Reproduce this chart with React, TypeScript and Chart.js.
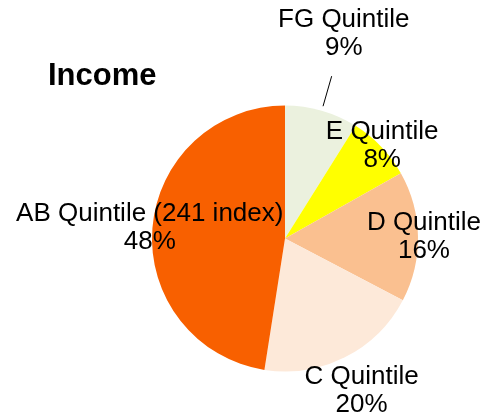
import React, { useEffect, useRef } from "react";
import { Chart, registerables } from "chart.js";

Chart.register(...registerables);

const TITLE = "Income";
const categories = ["FG Quintile", "E Quintile", "D Quintile", "C Quintile", "AB Quintile (241 index)"];
const shares = [9, 8, 16, 20, 48];
const valueLabels = ["9%", "8%", "16%", "20%", "48%"];
const sliceColors = ["#EBF1DE", "#FFFF00", "#FAC090", "#FDE9D9", "#F86000"];
// radial distance of each label (multiple of the pie radius)
const labelRadius = [1.6, 1.01, 1.045, 1.28, 1.02];
const leaderLine = [true, false, false, false, false];

const labelPlugin = {
  id: "sliceLabels",
  afterDraw(chart: any) {
    const ctx = chart.ctx as CanvasRenderingContext2D;
    const meta = chart.getDatasetMeta(0);
    ctx.save();
    // title
    ctx.fillStyle = "#000";
    ctx.font = "bold 31px 'Liberation Sans', Arial, sans-serif";
    ctx.textAlign = "left";
    ctx.textBaseline = "middle";
    ctx.fillText(TITLE, 48, 76);

    ctx.font = "26px 'Liberation Sans', Arial, sans-serif";
    ctx.textAlign = "center";
    meta.data.forEach((arc: any, i: number) => {
      const { x, y, startAngle, endAngle, outerRadius } = arc.getProps(
        ["x", "y", "startAngle", "endAngle", "outerRadius"],
        true
      );
      const mid = (startAngle + endAngle) / 2;
      const r = outerRadius * labelRadius[i];
      const lx = x + Math.cos(mid) * r;
      const ly = y + Math.sin(mid) * r;
      ctx.fillText(categories[i], lx, ly - 14);
      ctx.fillText(valueLabels[i], lx, ly + 14);
      if (leaderLine[i]) {
        const r1 = outerRadius * 1.035;
        const r2 = outerRadius * 1.27;
        ctx.beginPath();
        ctx.strokeStyle = "#000";
        ctx.lineWidth = 1;
        ctx.moveTo(x + Math.cos(mid) * r1, y + Math.sin(mid) * r1);
        ctx.lineTo(x + Math.cos(mid) * r2, y + Math.sin(mid) * r2);
        ctx.stroke();
      }
    });
    ctx.restore();
  },
};

export default function App() {
  const ref = useRef<HTMLCanvasElement>(null);
  useEffect(() => {
    if (!ref.current) return;
    const chart = new Chart(ref.current, {
      type: "pie",
      data: {
        labels: categories,
        datasets: [
          {
            data: shares,
            backgroundColor: sliceColors,
            borderWidth: 0,
          },
        ],
      },
      options: {
        responsive: false,
        animation: false,
        layout: { padding: { left: 152, right: 67, top: 105.5, bottom: 46.5 } },
        plugins: {
          legend: { display: false },
          title: { display: false },
          tooltip: { enabled: false },
        },
      },
      plugins: [labelPlugin],
    });
    return () => chart.destroy();
  }, []);
  return (
    <div style={{ position: "fixed", left: 0, top: 0, width: 485, height: 418, background: "#fff" }}>
      <canvas ref={ref} width={485} height={418} style={{ width: 485, height: 418 }} />
    </div>
  );
}
